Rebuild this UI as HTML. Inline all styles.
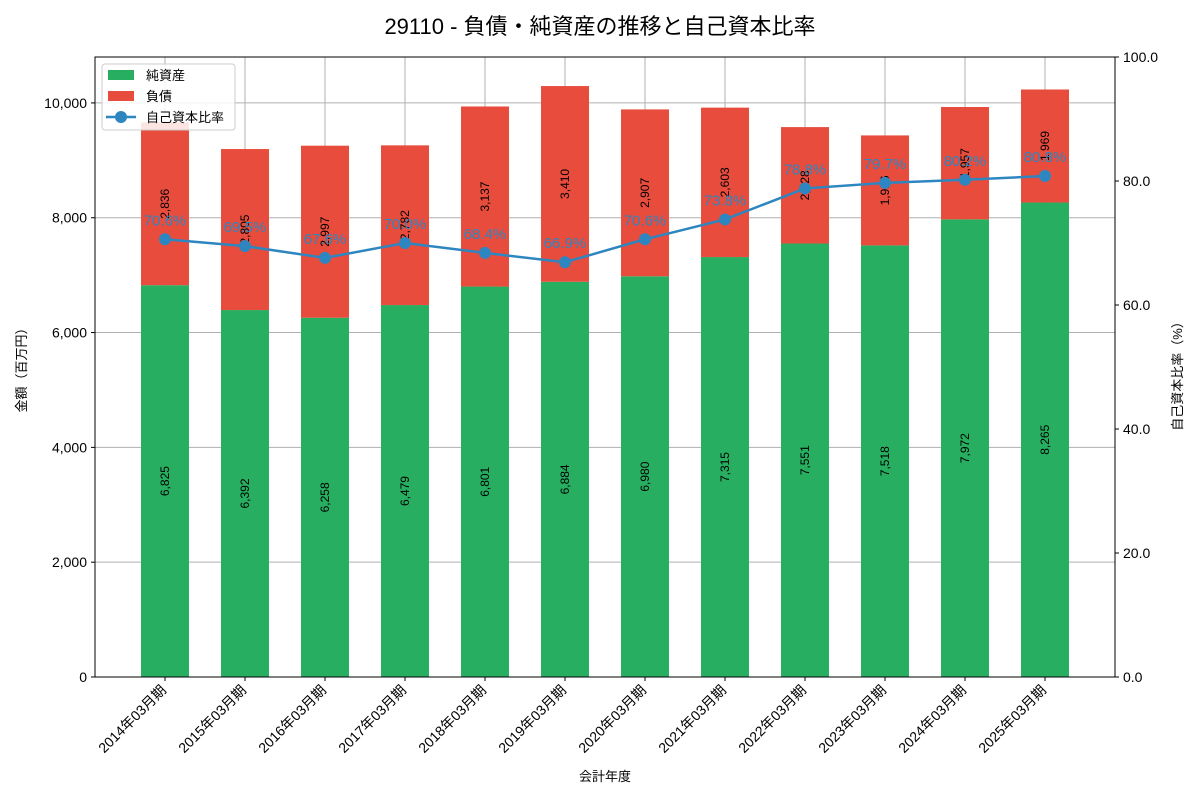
<!DOCTYPE html>
<html><head><meta charset="utf-8"><style>
body{margin:0;background:#fff;font-family:"Liberation Sans","Noto Sans CJK JP",sans-serif}
svg text{font-family:"Liberation Sans","Noto Sans CJK JP",sans-serif}
</style></head><body>
<svg id="c" width="1200" height="800"></svg>
<script>
const categories=["2014年03月期","2015年03月期","2016年03月期","2017年03月期","2018年03月期","2019年03月期","2020年03月期","2021年03月期","2022年03月期","2023年03月期","2024年03月期","2025年03月期"];
const equity=[6825,6392,6258,6479,6801,6884,6980,7315,7551,7518,7972,8265];
const liabilities=[2836,2805,2997,2782,3137,3410,2907,2603,2028,1916,1957,1969];
const ratio=[70.6,69.5,67.6,70.0,68.4,66.9,70.6,73.8,78.8,79.7,80.2,80.8];
const leftTicks=[0,2000,4000,6000,8000,10000];
const rightTicks=[0,20,40,60,80,100];
const NS="http://www.w3.org/2000/svg",svg=document.getElementById('c');
const X0=95,X1=1115,Y0=677,Y1=57;
const yL=v=>Y0-(v/10800)*(Y0-Y1), yR=v=>Y0-(v/100)*(Y0-Y1);
const xC=i=>165+80*i, BW=48;
function el(t,a,txt){const e=document.createElementNS(NS,t);for(const k in a)e.setAttribute(k,a[k]);if(txt!=null)e.textContent=txt;svg.appendChild(e);return e;}
const fmt=v=>v.toLocaleString('en-US');
// grid
categories.forEach((c,i)=>{const g=el('line',{x1:xC(i),x2:xC(i),y1:Y1,y2:Y0,stroke:'#b0b0b0','stroke-width':1});

});
leftTicks.forEach(v=>{const g=el('line',{x1:X0,x2:X1,y1:yL(v),y2:yL(v),stroke:'#b0b0b0','stroke-width':1});


const t=el('text',{x:X0-8,y:yL(v)+5,'text-anchor':'end','font-size':14},fmt(v));


el('line',{x1:X0-4,x2:X0,y1:yL(v),y2:yL(v),stroke:'#000'});});
rightTicks.forEach(v=>{const t=el('text',{x:X1+8,y:yR(v)+5,'font-size':14},v.toFixed(1));


el('line',{x1:X1,x2:X1+4,y1:yR(v),y2:yR(v),stroke:'#000'});});
// bars
categories.forEach((c,i)=>{
const x=xC(i)-BW/2;
const g=el('rect',{x:x,y:yL(equity[i]),width:BW,height:Y0-yL(equity[i]),fill:'#27ae60'});


const r=el('rect',{x:x,y:yL(equity[i]+liabilities[i]),width:BW,height:yL(equity[i])-yL(equity[i]+liabilities[i]),fill:'#e74c3c'});


const ey=(Y0+yL(equity[i]))/2, ly=(yL(equity[i])+yL(equity[i]+liabilities[i]))/2;
const t1=el('text',{x:xC(i)+4,y:ey,'font-size':12,'text-anchor':'middle',transform:`rotate(-90 ${xC(i)+4} ${ey})`},fmt(equity[i]));


const t2=el('text',{x:xC(i)+4,y:ly,'font-size':12,'text-anchor':'middle',transform:`rotate(-90 ${xC(i)+4} ${ly})`},fmt(liabilities[i]));


const xl=el('text',{x:xC(i)+2,y:Y0+14,'font-size':14,'text-anchor':'end',transform:`rotate(-45 ${xC(i)+2} ${Y0+14})`},c);


el('line',{x1:xC(i),x2:xC(i),y1:Y0,y2:Y0+4,stroke:'#000'});
});
// line
const pl=el('polyline',{points:ratio.map((v,i)=>xC(i)+','+yR(v)).join(' '),fill:'none',stroke:'#2e86c1','stroke-width':2.5});


ratio.forEach((v,i)=>{const p=el('circle',{cx:xC(i),cy:yR(v),r:6,fill:'#2e86c1'});


const t=el('text',{x:xC(i),y:yR(v)-14,'font-size':15,'text-anchor':'middle',fill:'#2e86c1'},v.toFixed(1)+'%');

});
// frame
el('rect',{x:X0,y:Y1,width:X1-X0,height:Y0-Y1,fill:'none',stroke:'#000','stroke-width':1});
const ti=el('text',{x:600,y:34,'font-size':22,'text-anchor':'middle'},'29110 - 負債・純資産の推移と自己資本比率');

const xt=el('text',{x:605,y:781,'font-size':13,'text-anchor':'middle'},'会計年度');

const yt=el('text',{x:26,y:367,'font-size':13,'text-anchor':'middle',transform:'rotate(-90 26 367)'},'金額（百万円）');

const y2=el('text',{x:1182,y:373,'font-size':13,'text-anchor':'middle',transform:'rotate(-90 1182 373)'},'自己資本比率（%）');

// legend
const lg=el('rect',{x:102,y:64,width:133,height:66,fill:'#fff','fill-opacity':0.85,stroke:'#ccc',rx:3});

el('rect',{x:108,y:70,width:26,height:10,fill:'#27ae60'});
const l1=el('text',{x:146,y:80,'font-size':13},'純資産');
el('rect',{x:108,y:91,width:26,height:10,fill:'#e74c3c'});
const l2=el('text',{x:146,y:101,'font-size':13},'負債');
el('line',{x1:106,x2:136,y1:117,y2:117,stroke:'#2e86c1','stroke-width':2.5});
el('circle',{cx:121,cy:117,r:6,fill:'#2e86c1'});
const l3=el('text',{x:146,y:122,'font-size':13},'自己資本比率');
</script>
</body></html>
